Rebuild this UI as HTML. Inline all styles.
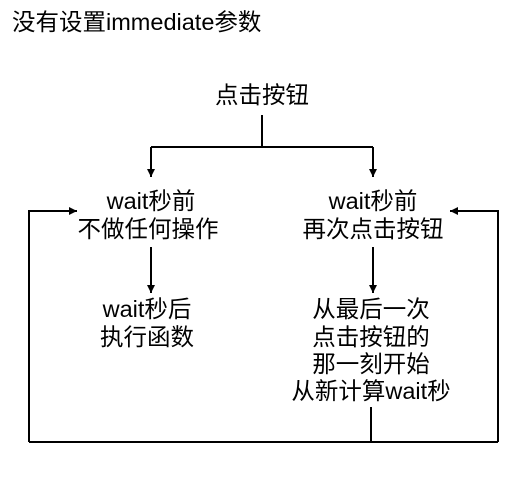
<!DOCTYPE html>
<html><head><meta charset="utf-8"><style>
html,body{margin:0;padding:0;background:#fff;}
svg{display:block;}
text{font-family:"Liberation Sans","Noto Sans CJK SC",sans-serif;font-size:23.5px;fill:#000;text-anchor:middle;dominant-baseline:central;}
</style></head><body>
<svg width="525" height="496" viewBox="0 0 525 496">
<defs><marker id="a" viewBox="0 0 10 10" refX="10" refY="5" markerWidth="8" markerHeight="8" orient="auto" markerUnits="userSpaceOnUse"><path d="M0,0 L10,5 L0,10 z" fill="#000"/></marker></defs>
<text x="12" y="22" style="text-anchor:start;font-size:23.5px">没有设置immediate参数</text>
<text x="262" y="95">点击按钮</text>
<g stroke="#000" stroke-width="2" fill="none">
<line x1="262" y1="115" x2="262" y2="147"/>
<line x1="151" y1="147" x2="373" y2="147"/>
<polyline points="151,147 151,177" marker-end="url(#a)"/>
<polyline points="373,147 373,177" marker-end="url(#a)"/>
<polyline points="151,247 151,293" marker-end="url(#a)"/>
<polyline points="373,247 373,293" marker-end="url(#a)"/>
<line x1="371" y1="407" x2="371" y2="442"/>
<polyline points="29,442 29,211 77,211" marker-end="url(#a)"/>
<line x1="29" y1="442" x2="498" y2="442"/>
<polyline points="498,442 498,211 450,211" marker-end="url(#a)"/>
</g>
<text x="151" y="201">wait秒前</text>
<text x="148" y="229">不做任何操作</text>
<text x="373" y="201">wait秒前</text>
<text x="373" y="229">再次点击按钮</text>
<text x="147" y="309">wait秒后</text>
<text x="147" y="337">执行函数</text>
<text x="371" y="309">从最后一次</text>
<text x="371" y="337">点击按钮的</text>
<text x="371" y="364">那一刻开始</text>
<text x="371" y="391">从新计算wait秒</text>
</svg>
</body></html>
